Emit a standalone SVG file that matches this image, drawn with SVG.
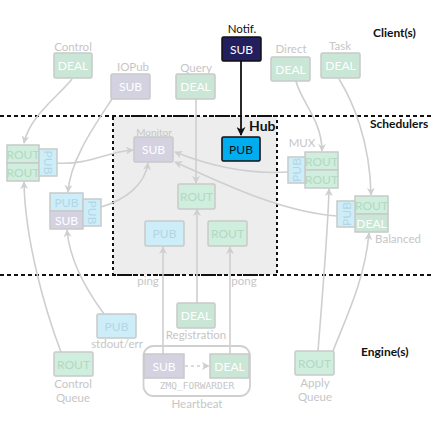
<svg xmlns="http://www.w3.org/2000/svg" width="432" height="432" viewBox="0 0 432 432">
<style>
text{font-family:Lato,"Open Sans","Liberation Sans",sans-serif;}
.lbl{font-size:11.5px;fill:#c6c6c6;text-anchor:middle;}
.bold{font-size:12px;font-weight:bold;fill:#111;}
.bx{stroke:#c8cac9;stroke-width:1.5;}
.deal{fill:#c9e6d6;}
.rout{fill:#d0eedd;}
.sub{fill:#d4d2e1;}
.pub{fill:#cdeef9;}
.tw{font-size:12px;fill:#ffffff;text-anchor:middle;}
.tr{font-size:12px;fill:#b2d9c1;text-anchor:middle;}
.tp{font-size:12px;fill:#b3d6e6;text-anchor:middle;}
.con{fill:none;stroke:#cfcfcf;stroke-width:1.6;marker-end:url(#ag);}
.sep{fill:none;stroke:#111;stroke-width:2;stroke-dasharray:4 3;}
</style>
<defs>
<marker id="ag" viewBox="0 0 10 10" refX="9" refY="5" markerWidth="8" markerHeight="8" markerUnits="userSpaceOnUse" orient="auto">
<path d="M0,0 L10,5 L0,10 L3,5 z" fill="#cfcfcf"/>
</marker>
<marker id="ab" viewBox="0 0 10 10" refX="9" refY="5" markerWidth="9" markerHeight="9" markerUnits="userSpaceOnUse" orient="auto">
<path d="M0,0 L10,5 L0,10 L3,5 z" fill="#111"/>
</marker>
</defs>
<rect width="432" height="432" fill="#ffffff"/>

<g id="hub">
<rect x="113" y="116" width="164" height="159" fill="#ecedec" stroke="#111" stroke-width="2" stroke-dasharray="3 3"/>
<text x="249" y="131" class="bold" style="font-size:14px">Hub</text>
</g>

<g id="separators">
<line x1="0" y1="116" x2="432" y2="116" class="sep"/>
<line x1="0" y1="275" x2="432" y2="275" class="sep"/>
<text x="373" y="37" class="bold">Client(s)</text>
<text x="370" y="128" class="bold">Schedulers</text>
<text x="361" y="356" class="bold">Engine(s)</text>
</g>

<g id="connectors">
<path class="con" d="M72,79 C60,95 30,115 24,143"/>
<path class="con" d="M112,99 C95,125 70,160 68,192"/>
<path class="con" d="M57,163 C90,165 105,152 133,150"/>
<path class="con" d="M101,207 C125,200 145,185 148,163"/>
<path class="con" d="M196,99 L196,183"/>
<path class="con" d="M288,172 C240,175 200,162 175,152"/>
<path class="con" d="M337,216 C280,212 220,182 175,162"/>
<path class="con" d="M296,81 C300,100 322,120 322,151"/>
<path class="con" d="M339,79 C352,100 370,140 371,195"/>
<path class="con" d="M61,352 C45,310 25,240 24,182"/>
<path class="con" d="M104,314 C90,295 70,265 67,230"/>
<path class="con" d="M163,354 L163,247"/>
<path class="con" d="M197,303 L197,209"/>
<path class="con" d="M230,354 L230,247"/>
<path class="con" d="M318,351 C322,300 328,230 329,189"/>
<path class="con" d="M333,351 C345,320 365,280 369,233"/>
<path class="con" d="M185,366 L209,366" stroke-dasharray="3 3"/>
<path d="M241,61 L241,135" fill="none" stroke="#111" stroke-width="1.8" marker-end="url(#ab)"/>
</g>

<g id="control">
<text x="73" y="51" class="lbl">Control</text>
<rect x="54" y="53" width="38" height="25" rx="1.5" class="bx deal"/>
<text x="73" y="70" class="tw">DEAL</text>
</g>
<g id="iopub">
<text x="133" y="71" class="lbl">IOPub</text>
<rect x="111" y="74" width="39" height="25" rx="1.5" class="bx sub"/>
<text x="130.5" y="91" class="tw">SUB</text>
</g>
<g id="query">
<text x="196" y="72" class="lbl">Query</text>
<rect x="176" y="74" width="39" height="25" rx="1.5" class="bx deal"/>
<text x="195.5" y="91" class="tw">DEAL</text>
</g>
<g id="notif">
<text x="242" y="33" style="font-size:11.5px;fill:#111;text-anchor:middle">Notif.</text>
<rect x="222" y="37" width="39" height="24" rx="1.5" fill="#231f5f" stroke="#111" stroke-width="1.5"/>
<text x="241.5" y="53.5" class="tw">SUB</text>
</g>
<g id="direct">
<text x="291" y="53" class="lbl">Direct</text>
<rect x="271" y="57" width="39" height="24" rx="1.5" class="bx deal"/>
<text x="290.5" y="73.5" class="tw">DEAL</text>
</g>
<g id="task">
<text x="340" y="50" class="lbl">Task</text>
<rect x="321" y="53" width="39" height="25" rx="1.5" class="bx deal"/>
<text x="340.5" y="70" class="tw">DEAL</text>
</g>

<g id="hub-pub">
<rect x="222" y="137" width="38" height="24" rx="1.5" fill="#00aeef" stroke="#111" stroke-width="1.6"/>
<text x="241" y="153.5" style="font-size:12px;fill:#111;text-anchor:middle">PUB</text>
</g>
<g id="monitor">
<text x="154" y="136" class="lbl" style="font-size:10px">Monitor</text>
<rect x="134" y="137" width="39" height="25" rx="1.5" class="bx sub"/>
<text x="153.5" y="154" class="tw">SUB</text>
</g>
<g id="hub-rout-reg">
<rect x="178" y="184" width="37" height="25" rx="1.5" class="bx rout"/>
<text x="196.5" y="201" class="tr">ROUT</text>
</g>
<g id="hub-pub-ping">
<rect x="145" y="221" width="39" height="25" rx="1.5" class="bx pub"/>
<text x="164.5" y="238" class="tp">PUB</text>
</g>
<g id="hub-rout-pong">
<rect x="208" y="221" width="39" height="25" rx="1.5" class="bx rout"/>
<text x="227.5" y="238" class="tr">ROUT</text>
</g>

<g id="control-sched">
<rect x="7" y="145" width="32" height="18" class="bx rout"/>
<rect x="7" y="163" width="32" height="18" class="bx rout"/>
<text x="23" y="158.5" class="tr">ROUT</text>
<text x="23" y="176.5" class="tr">ROUT</text>
<rect x="39" y="149" width="18" height="27" class="bx pub"/>
<text transform="translate(43.5,162.5) rotate(90)" class="tp">PUB</text>
</g>
<g id="iopub-sched">
<rect x="50" y="193" width="33" height="18" class="bx pub"/>
<rect x="50" y="211" width="33" height="18" class="bx sub"/>
<text x="66.5" y="206.5" class="tp">PUB</text>
<text x="66.5" y="224.5" class="tw">SUB</text>
<rect x="83" y="199" width="18" height="27" class="bx pub"/>
<text transform="translate(87.5,212.5) rotate(90)" class="tp">PUB</text>
</g>
<g id="mux">
<text x="302" y="147" class="lbl">MUX</text>
<rect x="305" y="152" width="33" height="18" class="bx rout"/>
<rect x="305" y="170" width="33" height="18" class="bx rout"/>
<text x="321.5" y="165.5" class="tr">ROUT</text>
<text x="321.5" y="183.5" class="tr">ROUT</text>
<rect x="288" y="157" width="17" height="26" class="bx pub"/>
<text transform="translate(300.5,170) rotate(-90)" class="tp">PUB</text>
</g>
<g id="balanced">
<rect x="355" y="196" width="33" height="18" class="bx rout"/>
<rect x="355" y="214" width="33" height="18" class="bx deal"/>
<text x="371.5" y="209.5" class="tr">ROUT</text>
<text x="371.5" y="227.5" class="tw">DEAL</text>
<rect x="337" y="201" width="18" height="26" class="bx pub"/>
<text transform="translate(350.5,214) rotate(-90)" class="tp">PUB</text>
<text x="398" y="243" class="lbl">Balanced</text>
</g>

<g id="stdout">
<rect x="97" y="314" width="39" height="24" rx="1.5" class="bx pub"/>
<text x="116.5" y="330.5" class="tp">PUB</text>
<text x="117" y="348" class="lbl">stdout/err</text>
</g>
<g id="control-queue">
<rect x="54" y="352" width="39" height="24" rx="1.5" class="bx rout"/>
<text x="73.5" y="368.5" class="tr">ROUT</text>
<text x="73" y="388" class="lbl">Control</text>
<text x="73" y="402" class="lbl">Queue</text>
</g>
<g id="registration">
<rect x="177" y="303" width="38" height="25" rx="1.5" class="bx deal"/>
<text x="196" y="320" class="tw">DEAL</text>
<text x="196" y="339" class="lbl">Registration</text>
</g>
<g id="ping-pong-labels">
<text x="148" y="285" class="lbl">ping</text>
<text x="244" y="285" class="lbl">pong</text>
</g>
<g id="heartbeat">
<rect x="143.5" y="346" width="106.5" height="50" rx="10" fill="none" stroke="#d0d0d0" stroke-width="1.8"/>
<rect x="144" y="354" width="40" height="24" class="bx sub"/>
<text x="164" y="370.5" class="tw">SUB</text>
<rect x="210" y="354" width="39" height="24" class="bx deal"/>
<text x="229.5" y="370.5" class="tw">DEAL</text>
<text x="197" y="389" style="font-family:'DejaVu Sans Mono','Liberation Mono',monospace;font-size:9.5px;fill:#c6c6c6;text-anchor:middle">ZMQ_FORWARDER</text>
<text x="197" y="408" class="lbl">Heartbeat</text>
</g>
<g id="apply-queue">
<rect x="295" y="351" width="39" height="24" rx="1.5" class="bx rout"/>
<text x="314.5" y="367.5" class="tr">ROUT</text>
<text x="315" y="387" class="lbl">Apply</text>
<text x="315" y="401" class="lbl">Queue</text>
</g>
</svg>
